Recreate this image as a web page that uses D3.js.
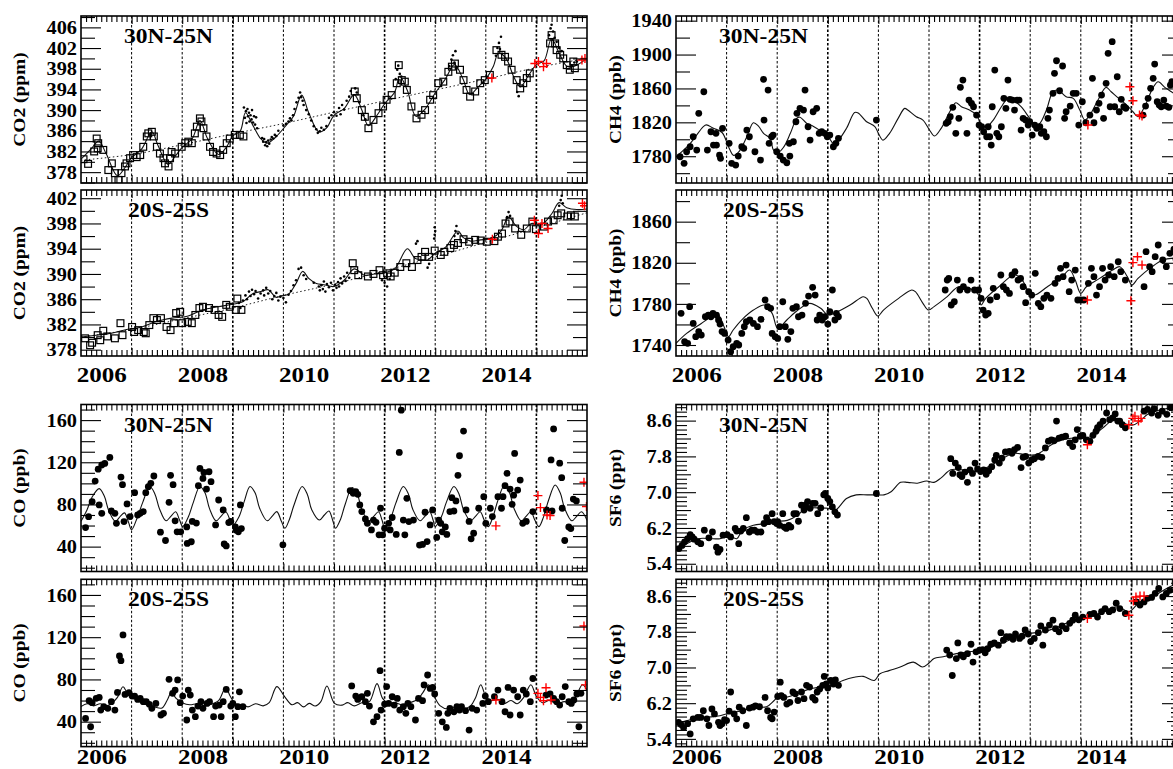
<!DOCTYPE html>
<html><head><meta charset="utf-8">
<script src="https://cdn.jsdelivr.net/npm/d3@7"></script>
<style>
body{margin:0;background:#fff}
svg{display:block;background:#fff}
text{font-family:"Liberation Serif","Times New Roman",serif;font-weight:bold;fill:#000}
</style>
</head><body>
<svg id="c" width="1173" height="769"></svg>
<script>
// ---------------- DATA (decimal year, value) ----------------
const yearLabels = ["2006","2008","2010","2012","2014"];
const titles = ["30N-25N","20S-25S"];
const yTitles = ["CO2 (ppm)","CH4 (ppb)","CO (ppb)","SF6 (ppt)"];

// CO2 30N-25N
const co2nSquares = [[2006.05,380.5],[2006.14,379.6],[2006.26,382.0],[2006.34,383.6],[2006.31,384.5],[2006.33,382.6],[2006.44,382.3],[2006.54,378.4],[2006.61,379.7],[2006.67,377.8],[2006.74,376.5],[2006.80,377.8],[2006.87,379.1],[2006.90,379.7],[2006.97,380.7],[2007.03,381.3],[2007.10,380.9],[2007.17,381.3],[2007.23,382.9],[2007.30,384.9],[2007.33,385.5],[2007.40,385.8],[2007.44,384.9],[2007.50,382.9],[2007.56,381.6],[2007.63,380.7],[2007.66,379.7],[2007.73,379.1],[2007.76,380.7],[2007.79,381.9],[2007.86,381.6],[2007.99,382.9],[2008.06,383.6],[2008.12,383.9],[2008.19,383.6],[2008.25,385.5],[2008.29,386.8],[2008.35,388.4],[2008.38,387.8],[2008.42,386.5],[2008.48,384.9],[2008.55,382.9],[2008.61,381.9],[2008.68,381.6],[2008.75,381.3],[2008.81,382.3],[2008.88,383.6],[2008.94,384.5],[2009.04,385.2],[2009.14,385.2],[2009.21,384.9],
[2011.41,393.6],[2011.45,392.3],[2011.55,390.0],[2011.61,388.7],[2011.68,386.5],[2011.78,388.1],[2011.88,389.4],[2011.97,390.7],[2012.04,392.0],[2012.14,392.9],[2012.24,395.2],[2012.28,398.7],[2012.34,395.8],[2012.40,395.5],[2012.44,393.9],[2012.53,390.7],[2012.63,388.4],[2012.73,389.1],[2012.80,390.0],[2012.90,392.0],[2012.96,392.9],[2013.06,395.2],[2013.16,395.5],[2013.26,397.4],[2013.33,398.4],[2013.39,399.0],[2013.49,397.8],[2013.56,395.8],[2013.62,393.9],[2013.69,392.6],[2013.79,393.6],[2013.89,395.2],[2013.98,395.8],[2014.08,396.8],[2014.21,401.6],[2014.31,400.7],[2014.38,400.3],[2014.44,399.4],[2014.51,397.8],[2014.61,395.8],[2014.68,394.2],[2014.74,395.2],[2014.81,396.2],[2014.87,397.1],[2015.27,402.9],[2015.30,404.5],[2015.37,402.9],[2015.40,401.6],[2015.47,400.7],[2015.53,400.0],[2015.60,398.7],[2015.66,397.8],[2015.76,398.1],[2015.73,399.4]];
const co2nDots = [[2009.22,390.5],[2009.24,388.5],[2009.26,389.8],[2009.27,387.5],[2009.29,390.2],[2009.30,388.8],[2009.32,389.5],[2009.33,387.8],[2009.35,389.0],[2009.37,388.2],[2009.38,390.0],[2009.40,387.6],[2009.42,388.8],[2009.44,387.2],[2009.46,388.6],[2009.48,386.5],[2009.58,384.6],[2009.60,383.9],[2009.62,384.4],[2009.64,383.2],[2009.66,383.8],[2009.68,383.0],[2009.70,384.1],[2009.72,383.5],[2009.75,384.3],[2009.77,384.8],[2009.80,384.5],[2009.83,385.2],[2009.86,385.0],[2009.90,386.0],[2010.00,387.0],[2010.05,387.3],[2010.10,387.8],[2010.13,388.4],[2010.16,388.0],[2010.19,389.0],[2010.22,390.2],[2010.26,391.5],[2010.30,392.4],[2010.33,393.4],[2010.35,392.5],[2010.38,391.8],[2010.40,391.0],[2010.45,390.0],[2010.50,389.2],[2010.55,388.0],[2010.60,386.9],[2010.65,386.3],[2010.68,385.6],[2010.72,385.9],[2010.75,386.6],[2010.80,386.2],[2010.85,386.9],[2010.90,388.5],[2010.95,389.0],[2011.00,389.6],[2011.05,388.9],[2011.10,390.4],[2011.13,389.2],[2011.16,391.0],[2011.20,390.1],[2011.25,391.8],[2011.30,392.6],[2011.33,393.7],[2011.42,394.2],[2011.45,393.4],[2011.50,391.5],[2011.58,389.0],[2011.62,388.2],[2012.22,396.0],[2012.25,397.8],[2012.27,398.6],[2012.30,397.0],[2012.33,396.5],[2013.28,398.5],[2013.32,399.8],[2013.35,400.6],[2013.38,399.2],[2013.42,398.0],[2013.40,401.4],[2013.95,395.4],[2014.02,396.4],[2014.20,400.5],[2014.23,402.0],[2014.26,403.0],[2014.28,401.8],[2014.32,400.9],[2014.30,404.2],[2014.62,393.5],[2014.65,392.7],[2015.25,404.5],[2015.28,405.8],[2015.30,406.5],[2015.33,405.2],[2015.36,404.0],[2015.40,403.2],[2015.45,402.0],[2015.50,401.4],[2015.70,398.6],[2015.75,399.2],[2015.80,399.4]];
const co2nFit = [[2006.0,380.5],[2006.2,382.5],[2006.35,384.0],[2006.5,381.5],[2006.72,377.3],[2006.87,378.9],[2007.0,380.8],[2007.2,382.5],[2007.4,385.8],[2007.52,383.2],[2007.72,379.5],[2007.87,381.2],[2008.0,382.8],[2008.2,384.5],[2008.35,388.0],[2008.5,384.5],[2008.72,381.4],[2008.87,382.8],[2009.0,385.0],[2009.15,386.0],[2009.25,389.5],[2009.4,387.0],[2009.55,384.5],[2009.68,383.6],[2009.85,384.8],[2010.05,387.0],[2010.2,388.8],[2010.36,392.9],[2010.5,389.5],[2010.7,385.8],[2010.85,386.5],[2011.0,389.0],[2011.2,390.3],[2011.4,393.0],[2011.55,390.0],[2011.68,387.0],[2011.85,389.0],[2012.0,391.2],[2012.2,393.5],[2012.3,396.5],[2012.45,393.8],[2012.62,388.8],[2012.8,390.2],[2013.0,393.3],[2013.2,396.0],[2013.38,398.8],[2013.55,396.0],[2013.68,393.0],[2013.85,394.5],[2014.0,396.0],[2014.15,398.5],[2014.25,401.0],[2014.4,400.0],[2014.55,396.5],[2014.68,394.5],[2014.85,396.8],[2015.0,398.8],[2015.15,399.5],[2015.3,403.8],[2015.45,401.0],[2015.6,398.5],[2015.75,398.5],[2016.0,400.0]];
const co2nTrend = [[2006.0,380.3],[2007.0,381.4],[2008.0,383.3],[2009.0,385.4],[2010.0,387.4],[2011.0,389.6],[2012.0,391.8],[2013.0,393.9],[2014.0,396.0],[2015.0,398.2],[2016.0,400.0]];
const co2nPlus = [[2014.12,396.2],[2014.97,399.0],[2015.04,399.4],[2015.14,398.4],[2015.20,399.0],[2015.90,399.7],[2015.96,400.0]];

// CO2 20S-25S
const co2sSquares = [[2006.08,379.8],[2006.18,378.7],[2006.22,379.1],[2006.33,380.3],[2006.38,379.5],[2006.44,381.0],[2006.52,380.1],[2006.67,379.8],[2006.78,382.2],[2006.82,380.3],[2007.01,381.6],[2007.05,380.8],[2007.13,381.1],[2007.24,380.8],[2007.28,380.6],[2007.35,381.9],[2007.43,383.0],[2007.50,382.7],[2007.58,383.0],[2007.69,381.6],[2007.77,381.1],[2007.84,382.2],[2007.88,383.8],[2007.96,384.0],[2008.00,382.2],[2008.11,382.4],[2008.19,382.2],[2008.26,383.5],[2008.34,384.6],[2008.41,384.8],[2008.53,384.6],[2008.64,384.3],[2008.72,383.5],[2008.79,383.2],[2008.87,385.1],[2008.94,384.8],[2009.06,384.3],[2009.09,386.1],[2009.17,384.3],
[2011.37,391.7],[2011.40,390.6],[2011.48,389.8],[2011.67,389.6],[2011.78,390.0],[2011.90,390.6],[2011.97,389.8],[2012.05,390.1],[2012.12,389.6],[2012.20,390.2],[2012.31,391.1],[2012.43,391.7],[2012.54,391.1],[2012.65,392.2],[2012.73,392.7],[2012.80,393.5],[2012.88,392.7],[2012.99,393.7],[2013.11,393.0],[2013.18,393.5],[2013.30,394.1],[2013.37,394.6],[2013.45,394.9],[2013.56,395.5],[2013.67,395.1],[2013.79,395.4],[2013.90,395.3],[2014.02,395.1],[2014.17,395.2],[2014.24,395.9],[2014.32,396.4],[2014.39,398.0],[2014.47,398.3],[2014.58,397.2],[2014.70,396.2],[2014.81,397.2],[2014.92,398.3],[2014.99,397.1],[2015.15,397.5],[2015.23,398.3],[2015.34,398.5],[2015.42,399.3],[2015.49,399.6],[2015.61,399.1],[2015.68,399.3],[2015.76,399.1]];
const co2sDots = [[2009.12,385.4],[2009.15,384.6],[2009.20,385.8],[2009.25,386.6],[2009.28,386.0],[2009.32,387.2],[2009.35,386.5],[2009.38,387.5],[2009.42,386.8],[2009.45,387.3],[2009.50,386.1],[2009.55,386.9],[2009.60,387.4],[2009.62,386.6],[2009.66,387.8],[2009.70,386.9],[2009.74,387.3],[2009.78,386.0],[2009.82,386.5],[2009.86,387.0],[2009.90,385.8],[2009.94,386.4],[2010.00,386.2],[2010.05,385.5],[2010.10,386.7],[2010.15,387.3],[2010.20,388.2],[2010.25,389.0],[2010.30,390.8],[2010.35,391.0],[2010.40,389.8],[2010.45,389.2],[2010.60,388.6],[2010.70,388.0],[2010.72,387.4],[2010.75,388.2],[2010.78,387.6],[2010.80,388.8],[2010.83,387.2],[2010.86,388.4],[2010.90,387.9],[2010.94,388.6],[2010.98,387.4],[2011.02,388.3],[2011.05,387.8],[2011.08,388.7],[2011.10,388.0],[2011.13,389.3],[2011.16,388.5],[2011.20,389.6],[2011.23,388.9],[2011.26,390.2],[2011.30,389.4],[2011.95,389.0],[2012.00,388.6],[2012.05,388.0],[2012.10,389.2],[2012.62,394.8],[2012.65,395.2],[2012.85,391.0],[2012.88,391.6],[2012.98,395.6],[2012.99,396.2],[2013.00,396.8],[2012.99,397.4],[2013.38,396.0],[2013.40,396.8],[2013.42,397.6],[2013.45,396.4],[2014.42,399.0],[2014.45,399.8],[2014.48,399.2],[2015.45,400.8],[2015.48,401.7],[2015.50,402.4],[2015.52,401.2]];
const co2sFit = [[2006.0,380.0],[2006.3,380.3],[2006.6,380.6],[2006.9,381.2],[2007.2,381.6],[2007.5,382.5],[2007.8,383.0],[2008.1,383.3],[2008.4,384.3],[2008.7,384.8],[2009.0,385.2],[2009.2,385.6],[2009.4,386.9],[2009.55,387.2],[2009.7,387.5],[2009.85,386.3],[2009.95,386.5],[2010.1,386.8],[2010.25,388.5],[2010.38,390.4],[2010.5,389.3],[2010.65,388.5],[2010.8,388.3],[2011.0,388.0],[2011.2,389.0],[2011.4,390.8],[2011.6,389.8],[2011.8,390.0],[2012.0,390.2],[2012.2,390.8],[2012.45,394.0],[2012.6,392.5],[2012.72,392.3],[2012.85,392.2],[2013.0,393.3],[2013.2,394.2],[2013.45,396.8],[2013.55,395.8],[2013.7,395.2],[2013.9,395.4],[2014.1,395.6],[2014.3,396.8],[2014.45,399.0],[2014.6,397.6],[2014.75,397.0],[2014.9,398.0],[2015.1,397.8],[2015.3,399.5],[2015.45,401.3],[2015.6,400.5],[2015.8,400.2],[2016.0,400.3]];
const co2sTrend = [[2006.0,380.0],[2007.0,381.2],[2008.0,382.9],[2009.0,384.6],[2010.0,386.6],[2011.0,388.4],[2012.0,390.5],[2013.0,392.7],[2014.0,395.0],[2015.0,397.3],[2016.0,399.7]];
const co2sPlus = [[2014.13,395.5],[2014.96,398.5],[2015.04,396.4],[2015.11,398.0],[2015.23,397.2],[2015.91,401.2],[2015.95,400.8]];

// CH4 30N-25N
const ch4nPts = [[2006.08,1779.4],[2006.16,1771.6],[2006.21,1785.3],[2006.28,1791.2],[2006.34,1803.0],[2006.41,1787.3],[2006.45,1830.6],[2006.55,1856.1],[2006.62,1787.3],[2006.69,1808.9],[2006.74,1793.2],[2006.79,1807.0],[2006.80,1793.2],[2006.86,1781.4],[2006.88,1777.5],[2006.92,1812.9],[2007.05,1795.2],[2007.10,1771.6],[2007.18,1769.6],[2007.23,1780.2],[2007.30,1791.2],[2007.34,1789.3],[2007.40,1810.9],[2007.45,1803.0],[2007.56,1785.3],[2007.67,1775.5],[2007.73,1870.8],[2007.74,1822.7],[2007.82,1858.1],[2007.84,1795.2],[2007.89,1803.0],[2007.92,1805.0],[2007.99,1785.3],[2008.06,1780.2],[2008.12,1775.5],[2008.19,1772.3],[2008.25,1780.2],[2008.24,1795.2],[2008.32,1797.1],[2008.37,1820.7],[2008.39,1830.6],[2008.45,1836.5],[2008.52,1834.5],[2008.55,1858.1],[2008.61,1814.8],[2008.65,1799.1],[2008.71,1832.5],[2008.78,1836.5],[2008.83,1807.0],[2008.88,1808.9],[2008.94,1807.0],[2008.99,1803.0],[2009.04,1805.0],[2009.11,1791.2],[2009.16,1795.2],[2009.21,1801.1],[2009.96,1822.7],
[2011.34,1818.8],[2011.38,1820.7],[2011.42,1826.6],[2011.47,1837.7],[2011.53,1807.0],[2011.59,1824.7],[2011.62,1861.3],[2011.67,1869.9],[2011.75,1807.0],[2011.79,1846.3],[2011.84,1842.4],[2011.88,1838.4],[2011.94,1828.6],[2011.99,1816.8],[2012.04,1814.8],[2012.08,1808.9],[2012.14,1803.0],[2012.17,1814.8],[2012.20,1803.0],[2012.23,1793.2],[2012.25,1838.4],[2012.30,1881.7],[2012.34,1807.0],[2012.38,1803.0],[2012.43,1814.8],[2012.48,1848.3],[2012.52,1836.5],[2012.56,1869.9],[2012.60,1847.2],[2012.65,1846.3],[2012.69,1834.5],[2012.74,1846.3],[2012.78,1846.3],[2012.82,1810.9],[2012.86,1824.7],[2012.91,1822.7],[2012.96,1816.8],[2012.99,1820.7],[2013.04,1805.0],[2013.09,1816.8],[2013.13,1813.0],[2013.19,1814.8],[2013.22,1807.0],[2013.27,1808.9],[2013.32,1803.0],[2013.35,1824.7],[2013.38,1834.5],[2013.45,1854.2],[2013.48,1877.8],[2013.52,1892.7],[2013.58,1857.3],[2013.64,1886.5],[2013.68,1824.7],[2013.71,1832.5],[2013.79,1839.2],[2013.85,1854.2],[2013.91,1854.2],[2013.96,1816.8],[2014.03,1844.3],[2014.10,1819.5],[2014.18,1828.6],[2014.23,1871.9],[2014.26,1819.5],[2014.31,1834.5],[2014.36,1842.4],[2014.41,1852.2],[2014.45,1824.7],[2014.50,1866.0],[2014.54,1901.5],[2014.58,1838.4],[2014.62,1915.2],[2014.67,1838.4],[2014.72,1873.8],[2014.76,1832.5],[2014.80,1847.2],[2014.85,1838.4],[2014.89,1836.5],[2015.23,1828.6],[2015.28,1839.2],[2015.33,1848.3],[2015.38,1860.1],[2015.43,1871.9],[2015.46,1888.8],[2015.51,1844.3],[2015.55,1840.4],[2015.59,1838.4],[2015.64,1846.3],[2015.69,1839.2],[2015.74,1837.7],[2015.77,1864.0],[2015.80,1867.9]];
const ch4nFit = [[2006.0,1779.4],[2006.28,1795],[2006.54,1815],[2006.6,1817],[2006.74,1813],[2006.91,1808],[2007.04,1791],[2007.14,1781],[2007.24,1785],[2007.4,1803],[2007.53,1819.5],[2007.63,1815.5],[2007.73,1807],[2007.86,1801],[2007.93,1787],[2008.03,1785],[2008.13,1791],[2008.26,1807],[2008.39,1825],[2008.45,1826],[2008.58,1819],[2008.71,1815.5],[2008.88,1809],[2009.01,1803],[2009.11,1795],[2009.21,1799],[2009.37,1813],[2009.53,1831.5],[2009.6,1831],[2009.76,1821],[2009.93,1815],[2010.0,1807],[2010.09,1799],[2010.22,1807],[2010.39,1824.7],[2010.52,1836.5],[2010.58,1834.5],[2010.75,1826.6],[2010.88,1822.7],[2011.01,1811],[2011.11,1803.8],[2011.24,1812.9],[2011.41,1832.5],[2011.53,1843.1],[2011.64,1838.4],[2011.8,1834.5],[2011.94,1828.6],[2012.04,1816.8],[2012.14,1814.8],[2012.27,1822.7],[2012.43,1838.4],[2012.56,1848.3],[2012.66,1846.3],[2012.82,1838.4],[2012.99,1824.7],[2013.09,1816.8],[2013.19,1818.8],[2013.32,1834.5],[2013.45,1856.1],[2013.55,1858.1],[2013.71,1850.2],[2013.85,1848.3],[2013.98,1834.5],[2014.08,1822.7],[2014.18,1828.6],[2014.34,1846.3],[2014.5,1861.3],[2014.6,1856.1],[2014.77,1847.2],[2014.93,1839.2],[2015.03,1832.5],[2015.13,1826.6],[2015.26,1838.4],[2015.43,1861.3],[2015.53,1867.9],[2015.66,1861.3],[2015.79,1856.1],[2016.0,1848]];
const ch4nPlus = [[2014.14,1816.8],[2014.97,1862.0],[2015.03,1845.5],[2015.16,1828.6],[2015.21,1827.4]];

// CH4 20S-25S
const ch4sPts = [[2006.10,1770.8],[2006.17,1743.2],[2006.23,1741.6],[2006.27,1777.3],[2006.34,1761.0],[2006.39,1748.1],[2006.45,1753.1],[2006.50,1749.7],[2006.58,1767.5],[2006.64,1769.1],[2006.69,1767.5],[2006.73,1770.8],[2006.80,1769.1],[2006.84,1764.3],[2006.87,1760.4],[2006.91,1753.1],[2006.96,1751.3],[2007.03,1744.8],[2007.08,1733.5],[2007.13,1738.3],[2007.20,1741.6],[2007.24,1740.0],[2007.30,1751.3],[2007.35,1757.8],[2007.39,1762.7],[2007.46,1764.3],[2007.53,1761.0],[2007.61,1757.8],[2007.68,1765.0],[2007.76,1783.8],[2007.81,1777.3],[2007.87,1775.7],[2007.90,1751.3],[2007.96,1748.1],[2008.01,1746.4],[2008.05,1757.8],[2008.11,1782.1],[2008.16,1757.8],[2008.21,1745.5],[2008.27,1753.1],[2008.31,1775.7],[2008.38,1777.3],[2008.42,1767.5],[2008.49,1769.1],[2008.56,1780.5],[2008.62,1787.6],[2008.70,1796.1],[2008.75,1788.6],[2008.79,1764.3],[2008.84,1769.1],[2008.89,1764.3],[2008.94,1767.5],[2009.00,1760.4],[2009.04,1772.4],[2009.09,1793.5],[2009.14,1764.3],[2009.17,1770.8],[2009.21,1767.5],
[2011.32,1793.5],[2011.36,1803.2],[2011.39,1804.8],[2011.44,1778.9],[2011.50,1782.1],[2011.56,1803.2],[2011.61,1793.5],[2011.68,1796.7],[2011.76,1793.5],[2011.83,1803.2],[2011.90,1793.5],[2011.98,1793.5],[2012.03,1785.4],[2012.07,1774.0],[2012.12,1769.1],[2012.17,1770.8],[2012.21,1783.8],[2012.27,1795.1],[2012.34,1787.0],[2012.42,1808.1],[2012.47,1796.7],[2012.53,1793.5],[2012.59,1790.2],[2012.64,1808.1],[2012.70,1811.3],[2012.76,1803.2],[2012.81,1804.8],[2012.86,1796.7],[2012.91,1781.2],[2012.97,1791.9],[2013.03,1788.6],[2013.10,1809.7],[2013.16,1780.5],[2013.21,1777.3],[2013.27,1785.4],[2013.33,1788.6],[2013.41,1785.4],[2013.49,1800.0],[2013.55,1804.8],[2013.60,1814.6],[2013.65,1806.5],[2013.71,1817.8],[2013.77,1791.9],[2013.82,1803.2],[2013.89,1812.9],[2013.94,1783.8],[2014.00,1783.8],[2014.06,1783.8],[2014.15,1800.0],[2014.21,1814.6],[2014.26,1806.5],[2014.31,1788.6],[2014.37,1796.7],[2014.43,1814.6],[2014.48,1803.2],[2014.55,1808.1],[2014.59,1816.2],[2014.66,1806.5],[2014.74,1821.0],[2014.79,1811.3],[2014.88,1803.2],[2015.25,1796.7],[2015.29,1830.8],[2015.36,1816.2],[2015.41,1811.3],[2015.47,1825.9],[2015.53,1837.3],[2015.62,1822.7],[2015.69,1816.2],[2015.76,1829.2],[2015.84,1833.0],[2015.88,1824.0]];
const ch4sFit = [[2006.0,1741.6],[2006.21,1751.3],[2006.5,1761],[2006.73,1768.2],[2006.84,1769],[2006.95,1757.8],[2007.04,1748.1],[2007.13,1754.6],[2007.31,1765],[2007.53,1774],[2007.75,1778.9],[2007.9,1770.8],[2008.01,1756.2],[2008.19,1764.3],[2008.41,1774],[2008.64,1780.5],[2008.86,1775.7],[2009.0,1769.1],[2009.15,1771.4],[2009.44,1778.9],[2009.7,1787],[2009.77,1785.4],[2009.88,1775.7],[2009.99,1768.2],[2010.1,1774],[2010.4,1785.4],[2010.66,1793.5],[2010.73,1791.9],[2010.88,1780.5],[2010.99,1774],[2011.1,1777.3],[2011.36,1787],[2011.58,1796.7],[2011.8,1795.1],[2011.98,1788.6],[2012.03,1778.9],[2012.12,1785.4],[2012.38,1796.7],[2012.68,1808.1],[2012.82,1804.8],[2012.97,1791.9],[2013.08,1788.6],[2013.34,1796.7],[2013.63,1806.5],[2013.78,1812.9],[2013.89,1803.2],[2014.0,1790.2],[2014.11,1796.7],[2014.37,1804.8],[2014.63,1812.9],[2014.77,1816.2],[2014.92,1806.5],[2015.01,1798.3],[2015.13,1804.8],[2015.39,1815.5],[2015.62,1822.7],[2015.8,1824.3],[2016.0,1822]];
const ch4sPlus = [[2014.13,1783.8],[2014.99,1783.1],[2015.03,1820.1],[2015.12,1825.9],[2015.21,1817.8]];

// CO 30N-25N
const coNPts = [[2006.09,58.1],[2006.15,68.4],[2006.22,82.6],[2006.28,102.2],[2006.34,113.5],[2006.41,117.4],[2006.47,118.9],[2006.57,124.6],[2006.36,79.5],[2006.41,71.6],[2006.60,73.8],[2006.67,71.6],[2006.70,62.1],[2006.79,106.0],[2006.82,98.8],[2006.85,63.8],[2006.91,80.5],[2006.97,68.5],[2007.06,91.2],[2007.12,70.0],[2007.17,71.6],[2007.23,73.2],[2007.28,91.2],[2007.33,96.9],[2007.38,100.0],[2007.44,107.0],[2007.57,53.7],[2007.67,45.8],[2007.74,82.0],[2007.77,107.6],[2007.82,98.8],[2007.86,64.5],[2007.90,54.0],[2007.97,54.0],[2008.09,58.7],[2008.10,43.0],[2008.18,44.6],[2008.20,63.9],[2008.28,62.3],[2008.32,97.8],[2008.35,114.2],[2008.41,104.7],[2008.43,110.4],[2008.48,94.6],[2008.53,111.0],[2008.57,101.6],[2008.66,60.6],[2008.72,84.2],[2008.81,74.8],[2008.83,42.6],[2008.87,40.7],[2008.92,62.8],[2008.96,63.9],[2009.05,58.7],[2009.07,55.6],[2009.11,54.0],[2009.15,79.5],[2009.17,57.1],[2009.99,41.7],
[2011.32,93.1],[2011.38,90.6],[2011.43,92.1],[2011.47,89.6],[2011.51,79.5],[2011.55,73.2],[2011.62,66.3],[2011.66,62.1],[2011.74,55.8],[2011.78,65.2],[2011.83,63.0],[2011.89,51.2],[2011.92,76.4],[2011.96,51.2],[2012.00,57.4],[2012.08,62.1],[2012.11,55.8],[2012.15,67.6],[2012.23,51.6],[2012.29,129.3],[2012.33,169.4],[2012.37,65.2],[2012.40,51.2],[2012.44,85.8],[2012.48,63.8],[2012.57,65.2],[2012.69,41.5],[2012.75,42.1],[2012.80,72.6],[2012.84,44.8],[2012.90,60.6],[2012.95,74.8],[2013.03,48.7],[2013.07,65.2],[2013.11,62.1],[2013.14,54.0],[2013.20,58.7],[2013.23,51.6],[2013.29,73.2],[2013.33,86.4],[2013.37,73.8],[2013.41,83.3],[2013.45,107.6],[2013.48,126.2],[2013.56,149.6],[2013.61,74.8],[2013.67,63.9],[2013.71,47.4],[2013.76,52.7],[2013.86,76.4],[2013.96,87.4],[2014.00,62.1],[2014.09,76.4],[2014.13,68.5],[2014.24,87.4],[2014.31,76.4],[2014.34,87.4],[2014.38,97.8],[2014.42,109.5],[2014.48,94.6],[2014.52,80.1],[2014.55,88.8],[2014.57,128.4],[2014.63,93.6],[2014.68,103.1],[2014.73,62.1],[2014.80,63.9],[2014.93,73.2],[2015.20,74.8],[2015.29,122.2],[2015.31,73.8],[2015.34,151.6],[2015.46,119.1],[2015.50,105.4],[2015.51,76.4],[2015.56,45.8],[2015.64,58.7],[2015.68,57.1],[2015.73,85.1],[2015.79,83.3]];
const coNFit = [[2006.0,64],[2006.12,75],[2006.22,87],[2006.36,95],[2006.46,88],[2006.55,74],[2006.68,64],[2006.78,69],[2006.86,72],[2006.94,63],[2007.0,56],[2007.1,66],[2007.22,82],[2007.36,97],[2007.46,90],[2007.55,76],[2007.68,64.5],[2007.78,69],[2007.87,73],[2007.95,65],[2008.01,59],[2008.12,68],[2008.22,82],[2008.35,97],[2008.45,91],[2008.54,76],[2008.67,64.5],[2008.77,69],[2008.86,73],[2008.94,66],[2009.0,60],[2009.12,68],[2009.22,82],[2009.34,97],[2009.44,91],[2009.53,76.4],[2009.68,64.5],[2009.78,69],[2009.87,73.2],[2009.96,64],[2010.03,57.4],[2010.12,66],[2010.21,79.5],[2010.37,97],[2010.47,90],[2010.56,75],[2010.71,65.2],[2010.81,70],[2010.9,73.8],[2010.98,64],[2011.03,57.4],[2011.13,66],[2011.22,80],[2011.36,96],[2011.46,90],[2011.55,75],[2011.69,64.5],[2011.79,69],[2011.88,73],[2011.95,65],[2012.0,58],[2012.12,67],[2012.22,81],[2012.37,97],[2012.47,90],[2012.56,75],[2012.7,64.5],[2012.8,69],[2012.89,73],[2012.96,65],[2013.0,59],[2013.12,68],[2013.22,82],[2013.37,97],[2013.47,90],[2013.56,75],[2013.7,64.5],[2013.8,69],[2013.89,73],[2013.97,65],[2014.05,59],[2014.14,68],[2014.24,84],[2014.37,98.5],[2014.47,91],[2014.56,76],[2014.7,64.5],[2014.8,69],[2014.89,73],[2014.97,65],[2015.05,59],[2015.14,68],[2015.24,84],[2015.37,98.5],[2015.47,91],[2015.56,76],[2015.7,64.5],[2015.8,69],[2015.89,73],[2016.0,65]];
const coNPlus = [[2014.20,59.7],[2015.03,88.4],[2015.08,77.0],[2015.21,70.0],[2015.27,69.5],[2015.94,101.0],[2015.99,78.0]];

// CO 20S-25S
const coSPts = [[2006.09,43.1],[2006.16,59.9],[2006.22,58.0],[2006.30,62.1],[2006.36,63.0],[2006.19,35.2],[2006.39,51.0],[2006.45,54.2],[2006.53,52.6],[2006.60,58.9],[2006.67,51.0],[2006.72,67.7],[2006.76,102.2],[2006.79,97.8],[2006.83,122.1],[2006.87,65.8],[2006.95,67.4],[2007.01,64.2],[2007.06,64.2],[2007.12,61.1],[2007.17,62.0],[2007.23,58.9],[2007.29,58.9],[2007.35,56.4],[2007.40,52.6],[2007.48,57.3],[2007.58,46.3],[2007.63,47.9],[2007.74,80.1],[2007.81,66.8],[2007.86,69.9],[2007.91,79.5],[2007.96,58.0],[2008.01,64.2],[2008.09,41.6],[2008.12,69.9],[2008.16,65.2],[2008.20,51.0],[2008.26,44.7],[2008.31,54.8],[2008.37,58.9],[2008.41,52.6],[2008.49,57.3],[2008.54,58.9],[2008.62,44.7],[2008.66,54.8],[2008.73,55.7],[2008.77,44.7],[2008.81,58.9],[2008.87,70.5],[2008.96,54.8],[2009.00,57.3],[2009.05,44.7],[2009.10,54.2],[2009.13,68.3],[2009.20,54.2],
[2011.35,73.8],[2011.43,64.2],[2011.47,61.1],[2011.55,63.6],[2011.62,58.9],[2011.66,66.8],[2011.70,54.8],[2011.78,39.9],[2011.85,44.7],[2011.91,88.3],[2011.93,51.0],[2012.00,56.7],[2012.04,73.2],[2012.08,57.3],[2012.15,63.6],[2012.19,55.7],[2012.25,62.0],[2012.30,51.0],[2012.37,54.2],[2012.42,47.9],[2012.46,57.3],[2012.52,54.2],[2012.61,41.6],[2012.67,62.0],[2012.75,59.9],[2012.78,74.8],[2012.85,84.2],[2012.90,71.5],[2012.95,72.4],[2012.99,66.2],[2013.07,47.9],[2013.14,39.9],[2013.22,34.6],[2013.25,47.9],[2013.29,52.6],[2013.37,49.4],[2013.43,54.2],[2013.48,51.0],[2013.52,54.2],[2013.60,50.4],[2013.67,32.0],[2013.73,52.6],[2013.82,51.0],[2013.94,57.3],[2013.99,64.2],[2014.05,58.9],[2014.17,63.6],[2014.24,69.9],[2014.32,58.9],[2014.38,49.4],[2014.44,72.4],[2014.48,46.3],[2014.55,69.9],[2014.63,63.6],[2014.68,46.3],[2014.74,69.9],[2014.80,66.2],[2014.88,58.9],[2014.93,80.9],[2015.19,65.2],[2015.27,66.2],[2015.34,62.0],[2015.40,58.9],[2015.46,55.7],[2015.51,63.6],[2015.57,73.2],[2015.64,58.9],[2015.69,57.3],[2015.74,60.5],[2015.80,66.2],[2015.84,35.2],[2015.88,66.8]];
const coSFit = [[2006.0,54.3],[2006.12,57],[2006.25,55],[2006.38,57],[2006.5,55],[2006.62,58],[2006.72,63],[2006.83,73],[2006.92,67],[2007.02,64],[2007.15,59],[2007.3,56],[2007.45,54],[2007.6,53],[2007.7,60],[2007.79,68],[2007.88,62],[2008.0,58],[2008.15,56],[2008.3,57],[2008.45,55],[2008.6,57],[2008.72,60],[2008.86,72],[2008.95,64],[2009.05,57],[2009.2,56],[2009.3,54],[2009.45,57],[2009.6,55],[2009.72,58],[2009.87,73.2],[2010.02,64],[2010.17,56],[2010.28,58],[2010.4,54],[2010.51,57.3],[2010.63,54.8],[2010.74,59],[2010.86,73.8],[2011.01,57.3],[2011.16,55.7],[2011.27,58],[2011.4,55],[2011.55,58],[2011.7,59],[2011.85,76],[2011.96,62],[2012.08,57],[2012.2,58],[2012.35,56],[2012.5,58],[2012.65,61],[2012.75,67],[2012.87,75],[2012.98,64],[2013.1,55],[2013.25,52],[2013.4,54],[2013.55,52],[2013.7,55],[2013.8,63],[2013.9,75],[2014.0,64],[2014.1,60],[2014.25,61],[2014.35,57],[2014.5,60],[2014.62,57],[2014.75,63],[2014.89,75],[2015.0,64],[2015.12,58],[2015.25,60],[2015.4,57],[2015.55,59],[2015.68,58],[2015.8,66],[2015.91,75],[2016.0,70]];
const coSPlus = [[2014.20,60.5],[2015.03,66.8],[2015.08,63.0],[2015.14,59.9],[2015.19,72.1],[2015.29,60.5],[2015.94,130.6],[2015.97,74.8]];

// SF6 30N-25N
const sf6nPts = [[2006.06,5.74],[2006.12,5.81],[2006.17,5.89],[2006.23,5.96],[2006.28,6.05],[2006.32,6.00],[2006.36,5.95],[2006.43,5.89],[2006.49,5.85],[2006.56,6.15],[2006.65,5.98],[2006.72,6.11],[2006.80,5.77],[2006.83,5.66],[2006.87,5.72],[2006.93,6.04],[2007.01,6.05],[2007.08,6.00],[2007.17,6.19],[2007.20,6.13],[2007.24,5.85],[2007.28,6.13],[2007.33,6.19],[2007.39,6.43],[2007.45,6.11],[2007.50,6.15],[2007.55,6.15],[2007.61,6.11],[2007.68,6.11],[2007.74,6.30],[2007.79,6.43],[2007.83,6.34],[2007.90,6.52],[2007.94,6.34],[2007.99,6.30],[2008.01,6.34],[2008.05,6.26],[2008.11,6.52],[2008.14,6.22],[2008.18,6.19],[2008.23,6.26],[2008.27,6.22],[2008.33,6.52],[2008.38,6.52],[2008.42,6.35],[2008.48,6.71],[2008.53,6.60],[2008.56,6.71],[2008.60,6.79],[2008.65,6.64],[2008.70,6.75],[2008.75,6.75],[2008.80,6.52],[2008.86,6.65],[2008.92,6.94],[2008.95,6.97],[2009.00,6.86],[2009.04,6.79],[2009.09,6.67],[2009.14,6.56],[2009.19,6.49],[2009.96,6.97],
[2011.43,7.75],[2011.47,7.42],[2011.52,7.65],[2011.58,7.55],[2011.61,7.39],[2011.65,7.35],[2011.71,7.45],[2011.76,7.22],[2011.81,7.50],[2011.86,7.42],[2011.91,7.65],[2011.96,7.52],[2012.02,7.46],[2012.08,7.50],[2012.13,7.40],[2012.18,7.48],[2012.24,7.57],[2012.30,7.72],[2012.33,7.82],[2012.39,7.65],[2012.44,7.76],[2012.51,7.90],[2012.59,7.91],[2012.64,7.87],[2012.69,7.95],[2012.75,8.00],[2012.82,7.55],[2012.86,7.78],[2012.91,7.80],[2012.97,7.65],[2013.03,7.72],[2013.08,7.75],[2013.16,7.80],[2013.23,7.78],[2013.30,7.99],[2013.36,8.14],[2013.42,8.17],[2013.47,8.15],[2013.52,8.59],[2013.57,8.21],[2013.63,8.23],[2013.70,8.25],[2013.78,8.10],[2013.84,8.02],[2013.89,8.17],[2013.93,8.40],[2013.99,8.25],[2014.04,8.27],[2014.11,8.17],[2014.18,8.14],[2014.24,8.27],[2014.30,8.36],[2014.33,8.44],[2014.38,8.51],[2014.44,8.59],[2014.51,8.77],[2014.57,8.62],[2014.63,8.66],[2014.68,8.75],[2014.73,8.59],[2014.77,8.59],[2014.82,8.51],[2014.88,8.44],[2015.25,8.81],[2015.32,8.85],[2015.40,8.77],[2015.45,8.87],[2015.53,8.72],[2015.61,8.81],[2015.70,8.74],[2015.78,8.89]];
const sf6nFit = [[2006.0,5.74],[2006.21,5.85],[2006.43,5.96],[2006.73,5.96],[2006.87,5.96],[2007.03,6.04],[2007.2,5.96],[2007.31,6.15],[2007.53,6.26],[2007.79,6.30],[2007.9,6.34],[2008.01,6.35],[2008.2,6.37],[2008.41,6.49],[2008.56,6.64],[2008.79,6.65],[2009.0,6.64],[2009.15,6.60],[2009.37,6.86],[2009.56,6.94],[2009.78,6.94],[2009.96,6.94],[2010.11,6.94],[2010.25,7.01],[2010.44,7.22],[2010.58,7.22],[2010.77,7.20],[2010.95,7.25],[2011.1,7.22],[2011.24,7.32],[2011.43,7.50],[2011.65,7.50],[2011.94,7.46],[2012.24,7.61],[2012.46,7.76],[2012.68,7.87],[2012.9,7.84],[2013.12,7.84],[2013.42,8.06],[2013.63,8.17],[2013.85,8.21],[2014.07,8.21],[2014.22,8.25],[2014.44,8.44],[2014.66,8.62],[2014.88,8.53],[2015.03,8.50],[2015.17,8.59],[2015.32,8.74],[2015.54,8.83],[2015.8,8.89],[2016.0,8.93]];
const sf6nPlus = [[2014.13,8.06],[2014.95,8.51],[2015.03,8.65],[2015.07,8.70],[2015.14,8.59],[2015.19,8.65]];

// SF6 20S-25S
const sf6sPts = [[2006.05,5.77],[2006.10,5.72],[2006.15,5.65],[2006.23,5.74],[2006.28,5.51],[2006.34,5.85],[2006.43,5.88],[2006.49,5.88],[2006.54,6.03],[2006.61,5.85],[2006.65,5.70],[2006.71,6.07],[2006.76,5.96],[2006.84,5.77],[2006.87,5.70],[2006.91,5.74],[2006.96,5.83],[2007.00,5.81],[2007.05,6.02],[2007.08,6.45],[2007.15,5.96],[2007.20,5.85],[2007.25,6.11],[2007.32,6.03],[2007.39,5.70],[2007.45,6.09],[2007.52,6.11],[2007.57,6.14],[2007.65,6.12],[2007.76,6.33],[2007.81,6.03],[2007.87,5.88],[2007.90,5.85],[2007.94,6.00],[2008.01,6.35],[2008.06,6.67],[2008.08,6.37],[2008.13,6.33],[2008.19,6.18],[2008.25,6.22],[2008.31,6.45],[2008.36,6.41],[2008.41,6.26],[2008.48,6.45],[2008.53,6.30],[2008.58,6.60],[2008.64,6.56],[2008.70,6.33],[2008.75,6.27],[2008.79,6.45],[2008.84,6.52],[2008.90,6.60],[2008.93,6.80],[2008.97,6.63],[2009.00,6.54],[2009.06,6.71],[2009.11,6.63],[2009.15,6.72],[2009.21,6.60],
[2011.35,7.39],[2011.41,7.28],[2011.46,6.82],[2011.54,7.20],[2011.57,7.55],[2011.63,7.28],[2011.68,7.24],[2011.76,7.31],[2011.83,7.52],[2011.87,7.12],[2011.93,7.35],[2012.00,7.39],[2012.06,7.40],[2012.11,7.33],[2012.16,7.42],[2012.22,7.52],[2012.29,7.55],[2012.37,7.50],[2012.42,7.78],[2012.47,7.61],[2012.53,7.69],[2012.60,7.69],[2012.66,7.63],[2012.71,7.75],[2012.79,7.65],[2012.84,7.70],[2012.90,7.84],[2012.96,7.75],[2013.01,7.58],[2013.08,7.65],[2013.16,7.78],[2013.21,7.93],[2013.25,7.50],[2013.30,7.84],[2013.38,7.95],[2013.45,8.06],[2013.50,7.87],[2013.57,7.80],[2013.63,7.93],[2013.71,7.87],[2013.78,7.99],[2013.84,8.06],[2013.89,8.17],[2013.96,8.07],[2014.04,8.13],[2014.18,8.19],[2014.26,8.21],[2014.33,8.13],[2014.41,8.25],[2014.48,8.32],[2014.56,8.25],[2014.63,8.29],[2014.70,8.44],[2014.77,8.32],[2014.88,8.21],[2015.10,8.47],[2015.17,8.40],[2015.25,8.47],[2015.32,8.55],[2015.40,8.57],[2015.47,8.66],[2015.54,8.77],[2015.62,8.58],[2015.69,8.66],[2015.76,8.73]];
const sf6sFit = [[2006.0,5.74],[2006.28,5.83],[2006.58,5.88],[2006.87,5.92],[2007.09,5.99],[2007.31,6.03],[2007.53,6.11],[2007.79,6.12],[2007.94,6.26],[2008.01,6.33],[2008.2,6.34],[2008.41,6.41],[2008.64,6.52],[2008.86,6.56],[2009.08,6.60],[2009.3,6.71],[2009.52,6.78],[2009.7,6.80],[2009.92,6.71],[2010.03,6.86],[2010.21,6.93],[2010.43,7.01],[2010.69,7.12],[2010.87,7.01],[2010.99,7.09],[2011.1,7.20],[2011.28,7.24],[2011.54,7.31],[2011.8,7.35],[2012.09,7.40],[2012.38,7.52],[2012.68,7.65],[2012.97,7.76],[2013.27,7.80],[2013.56,7.91],[2013.85,8.06],[2014.15,8.13],[2014.44,8.25],[2014.74,8.36],[2014.95,8.25],[2015.17,8.47],[2015.47,8.62],[2015.76,8.81],[2016.0,8.9]];
const sf6sPlus = [[2014.13,8.10],[2014.95,8.17],[2015.04,8.49],[2015.09,8.58],[2015.17,8.60],[2015.25,8.60]];

// ---------------- LAYOUT ----------------
const W = 506;
const colLeft = [81, 676];
const rowSpan = [[16,183],[190,356],[404.5,571.5],[579.3,746.6]];
const yearLabelOffset = [0,26,0,17.3];

const panels = [
  {col:0,row:0,dom:[375.9,408.2],major:[378,406,4],minor:[376,408,2],title:titles[0],yt:yTitles[0],squares:co2nSquares,dots:co2nDots,fit:co2nFit,trend:co2nTrend,plus:co2nPlus,dec:0},
  {col:0,row:1,dom:[377.0,403.3],major:[378,402,4],minor:[378,402,2],title:titles[1],yt:yTitles[0],squares:co2sSquares,dots:co2sDots,fit:co2sFit,trend:co2sTrend,plus:co2sPlus,dec:0,years:true},
  {col:1,row:0,dom:[1748.4,1945.5],major:[1780,1940,40],minor:[1760,1940,20],title:titles[0],yt:yTitles[1],pts:ch4nPts,fit:ch4nFit,plus:ch4nPlus,dec:0},
  {col:1,row:1,dom:[1729.3,1890.8],major:[1740,1860,40],minor:[1740,1880,20],title:titles[1],yt:yTitles[1],pts:ch4sPts,fit:ch4sFit,plus:ch4sPlus,dec:0,years:true},
  {col:0,row:2,dom:[16.4,174.8],major:[40,160,40],minor:[20,170,10],title:titles[0],yt:yTitles[2],pts:coNPts,fit:coNFit,plus:coNPlus,dec:0},
  {col:0,row:3,dom:[16.4,174.8],major:[40,160,40],minor:[20,170,10],title:titles[1],yt:yTitles[2],pts:coSPts,fit:coSFit,plus:coSPlus,dec:0,years:true},
  {col:1,row:2,dom:[5.227,8.96],major:[5.4,8.6,0.8],minor:[5.3,8.9,0.1],mid:0.4,title:titles[0],yt:yTitles[3],pts:sf6nPts,fit:sf6nFit,plus:sf6nPlus,dec:1},
  {col:1,row:3,dom:[5.227,8.976],major:[5.4,8.6,0.8],minor:[5.3,8.9,0.1],mid:0.4,title:titles[1],yt:yTitles[3],pts:sf6sPts,fit:sf6sFit,plus:sf6sPlus,dec:1,years:true}
];

const svg = d3.select('#c');
svg.append('rect').attr('width',1173).attr('height',769).attr('fill','#fff');
const defs = svg.append('defs');

function stretch(sel, f){
  sel.each(function(){
    const L = this.getComputedTextLength();
    this.setAttribute('textLength', (L*f).toFixed(2));
    this.setAttribute('lengthAdjust','spacingAndGlyphs');
  });
}
function seq(a,b,s){ const n=Math.round((b-a)/s); return d3.range(n+1).map(i=>+(a+i*s).toFixed(4)); }

panels.forEach((p,idx)=>{
  const left = colLeft[p.col], right = left + W;
  const [top, bottom] = rowSpan[p.row];
  const x = d3.scaleLinear().domain([2006,2016]).range([left,right]);
  const y = d3.scaleLinear().domain(p.dom).range([bottom,top]);
  const g = svg.append('g');
  const cid = 'clip'+idx;
  defs.append('clipPath').attr('id',cid).append('rect')
    .attr('x',left).attr('y',top).attr('width',W).attr('height',bottom-top);
  const pg = g.append('g').attr('clip-path',`url(#${cid})`);

  // dashed year lines
  d3.range(2007,2016).forEach(yr=>{
    pg.append('line').attr('x1',x(yr)).attr('x2',x(yr)).attr('y1',top).attr('y2',bottom)
      .attr('stroke','#000').attr('stroke-width', (yr===2009||yr===2012||yr===2015)?1.6:1)
      .attr('stroke-dasharray','2.5,2');
  });

  const line = d3.line().x(d=>x(d[0])).y(d=>y(d[1])).curve(d3.curveCatmullRom.alpha(0.5));
  if(p.trend){
    pg.append('path').attr('d',line(p.trend)).attr('fill','none').attr('stroke','#222')
      .attr('stroke-width',1).attr('stroke-dasharray','1.5,2.5');
  }
  pg.append('path').attr('d',line(p.fit)).attr('fill','none').attr('stroke','#111').attr('stroke-width',1.1);

  if(p.dots){
    pg.selectAll('circle.sd').data(p.dots).join('circle').attr('class','sd')
      .attr('cx',d=>x(d[0])).attr('cy',d=>y(d[1])).attr('r',1.3).attr('fill','#000');
  }
  if(p.squares){
    pg.selectAll('rect.sq').data(p.squares).join('rect').attr('class','sq')
      .attr('x',d=>x(d[0])-3.4).attr('y',d=>y(d[1])-3.4).attr('width',6.8).attr('height',6.8)
      .attr('fill','none').attr('stroke','#000').attr('stroke-width',1.2);
  }
  if(p.pts){
    pg.selectAll('circle.pt').data(p.pts).join('circle').attr('class','pt')
      .attr('cx',d=>x(d[0])).attr('cy',d=>y(d[1])).attr('r',3.4).attr('fill','#000');
  }
  pg.selectAll('path.pl').data(p.plus).join('path').attr('class','pl')
    .attr('d',d=>{const cx=x(d[0]),cy=y(d[1]);return `M${cx-4.5},${cy}H${cx+4.5}M${cx},${cy-4.5}V${cy+4.5}`;})
    .attr('stroke','#ff0000').attr('stroke-width',1.4).attr('fill','none');

  // x ticks (top and bottom, inward)
  const yrMinor = seq(2006.1,2015.9,0.1).filter(v=>Math.abs(v-Math.round(v))>1e-6);
  const yrMajor = d3.range(2007,2016);
  g.append('g').attr('transform',`translate(0,${bottom})`).call(d3.axisBottom(x).tickValues(yrMinor).tickSize(-6).tickFormat(''));
  g.append('g').attr('transform',`translate(0,${bottom})`).call(d3.axisBottom(x).tickValues(yrMajor).tickSize(-8).tickFormat(''));
  g.append('g').attr('transform',`translate(0,${top})`).call(d3.axisTop(x).tickValues(yrMinor).tickSize(-6).tickFormat(''));
  g.append('g').attr('transform',`translate(0,${top})`).call(d3.axisTop(x).tickValues(yrMajor).tickSize(-8).tickFormat(''));

  // y ticks
  const majors = seq(p.major[0],p.major[1],p.major[2]);
  let minors = seq(p.minor[0],p.minor[1],p.minor[2]).filter(v=>v>p.dom[0]&&v<p.dom[1]&&!majors.some(m=>Math.abs(m-v)<1e-6));
  let mids = [];
  if(p.mid){
    mids = minors.filter(v=>majors.some(m=>Math.abs(((v-m)/p.mid)-Math.round((v-m)/p.mid))<1e-4));
    minors = minors.filter(v=>!mids.includes(v));
  }
  const minLen = p.mid?11:14;
  const fmt = p.dec ? d3.format('.1f') : d3.format('d');
  g.append('g').attr('transform',`translate(${left},0)`).call(d3.axisLeft(y).tickValues(minors).tickSize(-minLen).tickFormat(''));
  g.append('g').attr('transform',`translate(${right},0)`).call(d3.axisRight(y).tickValues(minors).tickSize(-minLen).tickFormat(''));
  if(mids.length){
    g.append('g').attr('transform',`translate(${left},0)`).call(d3.axisLeft(y).tickValues(mids).tickSize(-15).tickFormat(''));
    g.append('g').attr('transform',`translate(${right},0)`).call(d3.axisRight(y).tickValues(mids).tickSize(-15).tickFormat(''));
  }
  const yl = g.append('g').attr('transform',`translate(${left},0)`).call(d3.axisLeft(y).tickValues(majors).tickSize(-20).tickPadding(4).tickFormat(fmt));
  g.append('g').attr('transform',`translate(${right},0)`).call(d3.axisRight(y).tickValues(majors).tickSize(-20).tickFormat(''));
  yl.selectAll('text').attr('font-size',18).attr('font-family','"Liberation Serif",serif').attr('font-weight','bold').attr('fill','#000').attr('dy','0.34em');
  stretch(yl.selectAll('text'),1.13);

  g.selectAll('.domain').remove();
  g.selectAll('.tick line').attr('stroke','#000').attr('stroke-width',1.1);

  // frame
  g.append('rect').attr('x',left).attr('y',top).attr('width',W).attr('height',bottom-top)
    .attr('fill','none').attr('stroke','#000').attr('stroke-width',1.6);

  // panel title
  const tt = g.append('text').attr('x',left+87.5).attr('y',top+27).attr('text-anchor','middle')
    .attr('font-size',21).text(p.title);
  stretch(tt,1.12);

  // y title
  const cy = (top+bottom)/2;
  const bx = p.col===0 ? 25 : 621;
  const yt = g.append('text').attr('transform',`translate(${bx},${cy}) rotate(-90)`)
    .attr('text-anchor','middle').attr('font-size',17.5).text(p.yt);
  stretch(yt,1.11);

  // year labels
  if(p.years){
    const xa = g.append('g').attr('transform',`translate(0,${bottom})`)
      .call(d3.axisBottom(x).tickValues(yearLabels.map(s=>+s+0.4)).tickSize(0).tickFormat((d,i)=>yearLabels[i]));
    xa.select('.domain').remove();
    const fs = p.row===3 ? 21 : 22;
    xa.selectAll('text').attr('y',yearLabelOffset[p.row]).attr('dy',0).attr('font-size',fs)
      .attr('font-family','"Liberation Serif",serif').attr('font-weight','bold').attr('fill','#000');
    stretch(xa.selectAll('text'), p.row===3 ? 1.19 : 1.14);
  }
});
</script>
</body></html>
